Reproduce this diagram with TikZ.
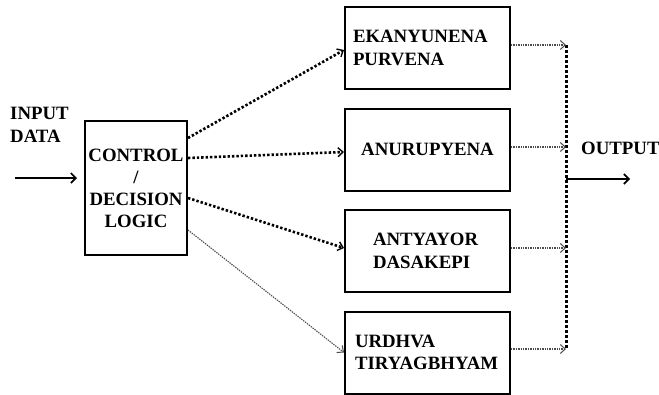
\documentclass[tikz,border=0pt]{standalone}
\usepackage{fontspec}
\setmainfont{Liberation Serif}
\usetikzlibrary{arrows.meta,calc}
\begin{document}
\begin{tikzpicture}[x=1pt,y=-1pt,
  lbl/.style={font=\fontsize{18.8}{22.5}\selectfont\bfseries},
  blockbox/.style={draw,line width=2pt,minimum width=165,minimum height=82,
    inner ysep=0pt,lbl},
  thickdot/.style={line width=2.6pt,dash pattern=on 2.4pt off 2pt,
    -{Straight Barb[length=5pt,width=9pt,line width=1.4pt]}},
  thindot/.style={line width=1.1pt,dash pattern=on 1.4pt off 1pt,black!70,
    -{Straight Barb[length=5pt,width=9pt,line width=1pt]}},
  solidarrow/.style={line width=1.8pt,
    -{Straight Barb[length=5pt,width=10pt,line width=1.6pt]}}]
\useasboundingbox (0,0) rectangle (659,394);

% control unit
\node[draw,line width=2pt,minimum width=102,minimum height=134,align=center,
  font=\fontsize{18.8}{22}\selectfont\bfseries,inner sep=0pt]
  (ctl) at (136,188) {CONTROL\\/\\DECISION\\LOGIC};

% input
\node[lbl,anchor=base west,align=left,inner sep=0pt] (inlbl) at (10,142)
  {INPUT\\DATA};
\coordinate (insrc) at (15,178);
\draw[solidarrow,line width=1.3pt] (insrc) -- ($(ctl.west)+(-7,-10)$);

% the four multiplier blocks
\node[blockbox,align=left,text width=149,inner xsep=8pt] (b1) at (427.5,48)
  {EKANYUNENA\\PURVENA};
\node[blockbox,align=center,text width=149,inner xsep=8pt] (b2) at (427.5,149.5)
  {ANURUPYENA};
\node[blockbox,align=left,text width=109,inner xsep=28pt] (b3) at (427.5,251)
  {ANTYAYOR\\DASAKEPI};
\node[blockbox,align=left,text width=145,inner xsep=10pt] (b4) at (427.5,352.5)
  {URDHVA\\TIRYAGBHYAM};

% control to blocks
\draw[thickdot] ($(ctl.east)+(0,-50)$) -- ($(b1.west)+(0,2)$);
\draw[thickdot] ($(ctl.east)+(0,-30)$) -- ($(b2.west)+(0,2.5)$);
\draw[thickdot] ($(ctl.east)+(0,10)$) -- ($(b3.west)+(0,-3)$);
\draw[thindot] ($(ctl.east)+(0,42)$) -- (b4.west);

% output bus
\coordinate (bustop) at (566,45);
\coordinate (busbot) at (566,349);
\coordinate (busout) at (566,179);
\draw[line width=3pt,dash pattern=on 3pt off 2pt] (bustop) -- (busbot);
\draw[thindot] ($(b1.east)+(0,-3)$) -- ($(b1.east -| bustop)+(0,-3)$);
\draw[thindot] ($(b2.east)+(0,-2.5)$) -- ($(b2.east -| bustop)+(0,-2.5)$);
\draw[thindot] ($(b3.east)+(0,-3)$) -- ($(b3.east -| bustop)+(0,-3)$);
\draw[thindot] ($(b4.east)+(0,-3.5)$) -- ($(b4.east -| bustop)+(0,-3.5)$);

% output
\coordinate (outend) at (630,179);
\draw[solidarrow] (busout) -- (outend);
\node[lbl,anchor=base west,inner sep=0pt] (outlbl) at (581,154) {OUTPUT};
\end{tikzpicture}
\end{document}
